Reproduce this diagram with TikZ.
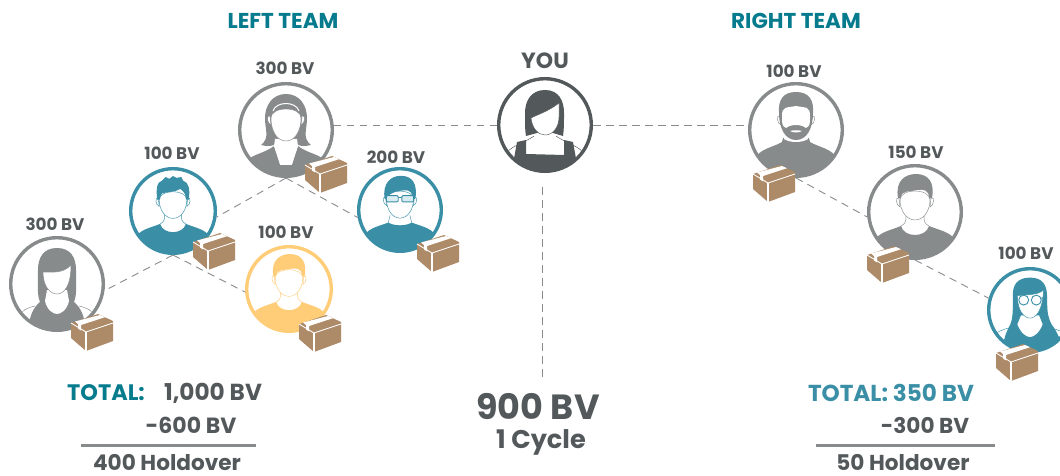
\documentclass[tikz,border=0pt]{standalone}
\usepackage{fontspec}
\setmainfont{Poppins}
\definecolor{gr}{HTML}{878B8C}
\definecolor{te}{HTML}{3A8FA6}
\definecolor{ye}{HTML}{FFCC78}
\definecolor{dk}{HTML}{53585A}
\definecolor{tt}{HTML}{067B8D}
\definecolor{br}{HTML}{AD8A68}
\definecolor{lt}{HTML}{D9ECF1}
\colorlet{pc}{gr}
\tikzset{
  x=1pt,y=-1pt,
  ring/.style={circle,draw=#1,line width=3.4pt,fill=white,inner sep=0pt},
  link/.style={draw=gr,line width=.9pt,dash pattern=on 7.5pt off 5.5pt},
  lbl/.style={text=dk,font=\bfseries\fontsize{16.8}{18}\selectfont,inner sep=0pt,anchor=center},
  big/.style={text=dk,font=\bfseries\fontsize{#1}{#1}\selectfont,inner sep=0pt,anchor=center},
  ttl/.style={text=#1,font=\bfseries\fontsize{21.5}{22}\selectfont,inner sep=0pt,anchor=center},
  thin line/.style={draw=pc,line width=.45pt},
}
% face: white with thin outline
\newcommand\facepath[3]{\path[fill=white,thin line] (-#1,-#2) .. controls (-#1,{#3-10}) and (-9,#3) .. (0,#3) .. controls (9,#3) and (#1,{#3-10}) .. (#1,-#2) .. controls (#1,{-#2-12}) and (-#1,{-#2-12}) .. (-#1,-#2) -- cycle;}
\newcommand\ears{\path[fill=white,thin line] (-16,-14) .. controls (-20,-16) and (-19,-6) .. (-15,-5) -- cycle;\path[fill=white,thin line] (16,-14) .. controls (20,-16) and (19,-6) .. (15,-5) -- cycle;}
\newcommand\manbody{%
  \fill[pc] (-42,32) .. controls (-38,20) and (-26,19) .. (-14,14) .. controls (-11,26) and (11,26) .. (14,14) .. controls (26,19) and (38,20) .. (42,32) -- (46,50) -- (-46,50) -- cycle;
  \path[thin line] (-14,14) .. controls (-10,12) and (-9,10) .. (-9,4);
  \path[thin line] (14,14) .. controls (10,12) and (9,10) .. (9,4);}
\newcommand\pTopWoman{%
  \fill[pc] (-42,34) .. controls (-36,24) and (-22,24) .. (-12,16) -- (-6,35) -- (6,35) -- (12,16) .. controls (22,24) and (36,24) .. (42,34) -- (46,50) -- (-46,50) -- cycle;
  \fill[pc] (0,-36) .. controls (-14,-36) and (-21,-24) .. (-21,-12) .. controls (-21,0) and (-16,8) .. (-25,15) .. controls (-18,17) and (-12,16) .. (-9,13) -- (9,13) .. controls (12,16) and (18,17) .. (25,15) .. controls (16,8) and (21,0) .. (21,-12) .. controls (21,-24) and (14,-36) .. (0,-36) -- cycle;
  \fill[white] (-11,9) -- (11,9) -- (12,16) -- (6,33) -- (-6,33) -- (-12,16) -- cycle;
  \ears
  \facepath{15}{12}{11}
  \draw[white,line width=1pt] (-13,-19) .. controls (-10,-29) and (10,-29) .. (13,-19);}
\newcommand\pYou{%
  \fill[pc] (-34,50) -- (-28,17) -- (-19,15) -- (-19,29) -- (19,30) -- (19,15) -- (28,17) -- (34,50) -- cycle;
  \fill[pc] (-46,36) -- (-36,36) -- (-28,50) -- (-46,50) -- cycle;
  \fill[pc] (46,36) -- (36,36) -- (28,50) -- (46,50) -- cycle;
  \path[thin line] (-38,30) .. controls (-38,22) and (-24,20) .. (-11,11);
  \path[thin line] (38,30) .. controls (38,22) and (24,20) .. (11,11);
  \fill[pc] (0,-35) .. controls (-14,-35) and (-20,-24) .. (-20,-12) .. controls (-20,0) and (-20,6) .. (-19,11) -- (-8,8) -- (8,8) -- (18,11) .. controls (19,4) and (19,0) .. (19,-12) .. controls (19,-24) and (14,-35) .. (0,-35) -- cycle;
  \path[fill=white,thin line] (14,-22) .. controls (4,-14) and (-6,-11) .. (-14,-7) .. controls (-13,3) and (-7,10) .. (0,10) .. controls (8,10) and (14,2) .. (14,-8) -- cycle;}
\newcommand\pBeard{%
  \fill[pc] (-42,30) .. controls (-36,18) and (-24,18) .. (-14,12) -- (-13,8) -- (13,8) -- (14,12) .. controls (24,18) and (36,18) .. (42,30) -- (46,50) -- (-46,50) -- cycle;
  \fill[white] (-12,9) .. controls (-6,13) and (6,13) .. (12,9) -- (12,6) -- (-12,6) -- cycle;
  \ears
  \fill[pc] (0,-38) .. controls (-13,-38) and (-18,-30) .. (-17,-17) .. controls (-17,-2) and (-11,10) .. (0,10) .. controls (11,10) and (17,-2) .. (17,-17) .. controls (18,-30) and (13,-38) .. (0,-38) -- cycle;
  \fill[white] (-14,-14) .. controls (-14,-24) and (-10,-22) .. (0,-24) .. controls (10,-22) and (14,-24) .. (14,-14) .. controls (14,-6) and (14,-4) .. (10,-2) .. controls (5,-6) and (-5,-6) .. (-10,-2) .. controls (-14,-4) and (-14,-6) .. (-14,-14) -- cycle;
  \fill[white] (-6,1) .. controls (-3,3) and (3,3) .. (6,1) .. controls (3,0) and (-3,0) .. (-6,1) -- cycle;}
\newcommand\pMan{%
  \manbody\ears\facepath{15}{12}{8}
  \fill[pc] (-17,-14) .. controls (-20,-31) and (-10,-38) .. (1,-38) .. controls (13,-38) and (20,-30) .. (17,-14) -- (14,-14) .. controls (14,-22) and (9,-23) .. (2,-22) .. controls (-6,-20) and (-14,-22) .. (-14,-14) -- cycle;}
\newcommand\pSpiky{%
  \manbody\ears\facepath{15}{12}{8}
  \fill[pc] (-17,-12) .. controls (-19,-24) and (-17,-32) .. (-12,-33) -- (-8,-37) -- (-4,-35) -- (0,-38) -- (4,-36) -- (9,-37) -- (11,-33) .. controls (17,-31) and (19,-24) .. (17,-12) -- (14,-13) .. controls (14,-18) and (12,-21) .. (8,-24) .. controls (2,-20) and (-8,-21) .. (-12,-19) .. controls (-14,-17) and (-14,-15) .. (-14,-13) -- cycle;}
\newcommand\pGlasses{%
  \fill[pc] (-42,34) .. controls (-38,20) and (-26,19) .. (-13,14) .. controls (-6,18) and (6,18) .. (13,14) .. controls (26,19) and (38,20) .. (42,34) -- (46,50) -- (-46,50) -- cycle;
  \path[thin line] (-13,14) -- (-11,6);\path[thin line] (13,14) -- (11,6);
  \ears\facepath{15}{12}{9}
  \fill[pc] (-17,-12) .. controls (-20,-30) and (-10,-38) .. (1,-38) .. controls (13,-38) and (20,-30) .. (17,-12) -- (14,-13) .. controls (14,-19) and (11,-22) .. (6,-22) .. controls (0,-21) and (-10,-22) .. (-14,-13) -- cycle;
  \path[fill=lt,draw=pc,line width=.9pt,rounded corners=1pt] (-15,-16) rectangle (-2,-9);
  \path[fill=lt,draw=pc,line width=.9pt,rounded corners=1pt] (2,-16) rectangle (15,-9);
  \draw[pc,line width=.9pt] (-2,-14) -- (2,-14);}
\newcommand\pLong{%
  \path[thin line] (-38,34) .. controls (-36,26) and (-30,24) .. (-22,22);
  \path[thin line] (38,34) .. controls (36,26) and (30,24) .. (22,22);
  \fill[pc] (0,-36) .. controls (-14,-36) and (-19,-26) .. (-19,-14) .. controls (-19,4) and (-20,10) .. (-17,18) .. controls (-24,24) and (-28,32) .. (-29,50) -- (29,50) .. controls (28,32) and (24,24) .. (17,18) .. controls (20,10) and (19,4) .. (19,-14) .. controls (19,-26) and (14,-36) .. (0,-36) -- cycle;
  \fill[white] (-10,6) -- (10,6) -- (12,17) .. controls (10,26) and (4,30) .. (0,30) .. controls (-4,30) and (-10,26) .. (-12,17) -- cycle;
  \path[fill=white,thin line] (14,-19) .. controls (6,-10) and (-6,-12) .. (-14,-12) .. controls (-14,2) and (-7,10) .. (0,10) .. controls (7,10) and (14,2) .. (14,-19) -- cycle;}
\newcommand\pLongG{%
  \path[thin line] (-42,30) .. controls (-38,24) and (-30,22) .. (-24,20);
  \path[thin line] (42,30) .. controls (38,24) and (30,22) .. (24,20);
  \fill[pc] (0,-36) .. controls (-14,-36) and (-20,-28) .. (-19,-14) .. controls (-19,4) and (-19,12) .. (-24,20) .. controls (-28,28) and (-30,36) .. (-31,50) -- (37,50) .. controls (36,36) and (30,24) .. (24,16) .. controls (20,8) and (19,4) .. (19,-14) .. controls (19,-28) and (14,-36) .. (0,-36) -- cycle;
  \fill[white] (-10,6) -- (10,6) -- (14,16) .. controls (10,26) and (4,30) .. (0,30) .. controls (-4,30) and (-10,26) .. (-14,16) -- cycle;
  \path[fill=white,thin line] (15,-22) .. controls (8,-16) and (-6,-17) .. (-14,-16) .. controls (-14,0) and (-7,9) .. (0,9) .. controls (7,9) and (14,0) .. (15,-22) -- cycle;
  \path[fill=white,draw=pc,line width=.9pt] (-7,-11) circle[radius=5.5];
  \path[fill=white,draw=pc,line width=.9pt] (7,-11) circle[radius=5.5];
  \draw[pc,line width=.9pt] (12,-13) -- (16,-14);}
% #1 node, #2 colour, #3 scale, #4 silhouette
\newcommand\persona[4]{%
  \colorlet{pc}{#2}
  \begin{scope}[shift={(#1.center)},scale=#3]
    \begin{scope}
      \clip (0,0) circle[radius=46.5];
      #4
    \end{scope}
  \end{scope}}
% #1 left, #2 top of parcel
\newcommand\parcel[2]{%
  \begin{scope}[shift={(#1,#2)}]
    \fill[br] (0,9) -- (27,0) -- (42,7) -- (42,27) -- (15,37) -- (0,24) -- cycle;
    \draw[white,line width=.9pt,line join=round] (0,9) -- (15,18) -- (42,9);
    \draw[white,line width=1.1pt] (15,18) -- (15,37);
    \fill[white] (4,7.5) -- (29,1) -- (34,3.2) -- (10,11) -- (10,16.5) -- (7,14.5) -- (7,10) -- cycle;
  \end{scope}}
\begin{document}
\begin{tikzpicture}
\useasboundingbox (0,0) rectangle (1060,476);
\clip (0,0) rectangle (1060,476);
% discs
\node[ring=dk,minimum size=92.6pt] (you) at (545,125) {};
\node[ring=gr,minimum size=92.6pt] (top) at (286,130) {};
\node[ring=te,minimum size=84.6pt] (tl) at (173,211) {};
\node[ring=gr,minimum size=92.6pt] (wl) at (57,284) {};
\node[ring=ye,minimum size=84.6pt] (yl) at (289,289) {};
\node[ring=te,minimum size=82.6pt] (gl) at (400,210) {};
\node[ring=gr,minimum size=92.6pt] (rb) at (796,130) {};
\node[ring=gr,minimum size=92.6pt] (rm) at (915,212) {};
\node[ring=te,minimum size=82.6pt] (rw) at (1030,310) {};
\coordinate (you0) at (542,187);
\coordinate (you1) at (542,382);
% connectors
\draw[link] (you.west |- 334,125) -- (top.east |- 334,125);
\draw[link] (you.east |- 593,125) -- (rb.west |- 593,125);
\draw[link] (you0) -- (you1);
\draw[link] (top.south) -- (tl.-8);
\draw[link] (top.south) -- (gl.190);
\draw[link] (tl.south) -- (wl.-8);
\draw[link] (tl.south) -- (yl.184);
\draw[link] (rb.south) -- (rm.186);
\draw[link] (rm.south) -- (rw.164);
% figures
\persona{you}{dk}{1}{\pYou}
\persona{top}{gr}{1}{\pTopWoman}
\persona{tl}{te}{.92}{\pSpiky}
\persona{wl}{gr}{1}{\pLong}
\persona{yl}{ye}{.92}{\pMan}
\persona{gl}{te}{.9}{\pGlasses}
\persona{rb}{gr}{1}{\pBeard}
\persona{rm}{gr}{1}{\pMan}
\persona{rw}{te}{.9}{\pLongG}
% parcels
\parcel{71}{314}
\parcel{193}{233}
\parcel{299}{315}
\parcel{305}{156}
\parcel{417}{235}
\parcel{753}{165}
\parcel{867}{246}
\parcel{996}{344}
% labels
\node[ttl=tt] (lt1) at (283,21) {LEFT TEAM};
\node[ttl=tt] (rt1) at (796,21) {RIGHT TEAM};
\node[big=22] (ly) at (545,61) {YOU};
\node[lbl] (l1) at (285,68) {300 BV};
\node[lbl] (l2) at (172,153) {100 BV};
\node[lbl] (l3) at (55,224) {300 BV};
\node[lbl] (l4) at (286,232) {100 BV};
\node[lbl] (l5) at (396,157) {200 BV};
\node[lbl] (l6) at (794,71) {100 BV};
\node[lbl] (l7) at (916,152) {150 BV};
\node[lbl] (l8) at (1026,253) {100 BV};
\node[big=22.4,text=tt] (t1) at (106,393) {TOTAL:};
\node[big=23.2] (t2) at (213,393) {1,000 BV};
\node[big=22] (t3) at (191,425) {-600 BV};
\node[big=21.6] (t4) at (167,462.5) {400 Holdover};
\node[big=23.1,text=te] (t5) at (891,393) {TOTAL: 350 BV};
\node[big=21.6] (t6) at (925,425) {-300 BV};
\node[big=21.6] (t7) at (903,462.5) {50 Holdover};
\node[big=35] (c1) at (538,406) {900 BV};
\node[big=25.6] (c2) at (541,442) {1 Cycle};
\coordinate (r1a) at (81,445.5);\coordinate (r1b) at (256,445.5);
\coordinate (r2a) at (816,445.5);\coordinate (r2b) at (995,445.5);
\draw[gr,line width=3pt] (r1a) -- (r1b);
\draw[gr,line width=3pt] (r2a) -- (r2b);
\end{tikzpicture}
\end{document}
